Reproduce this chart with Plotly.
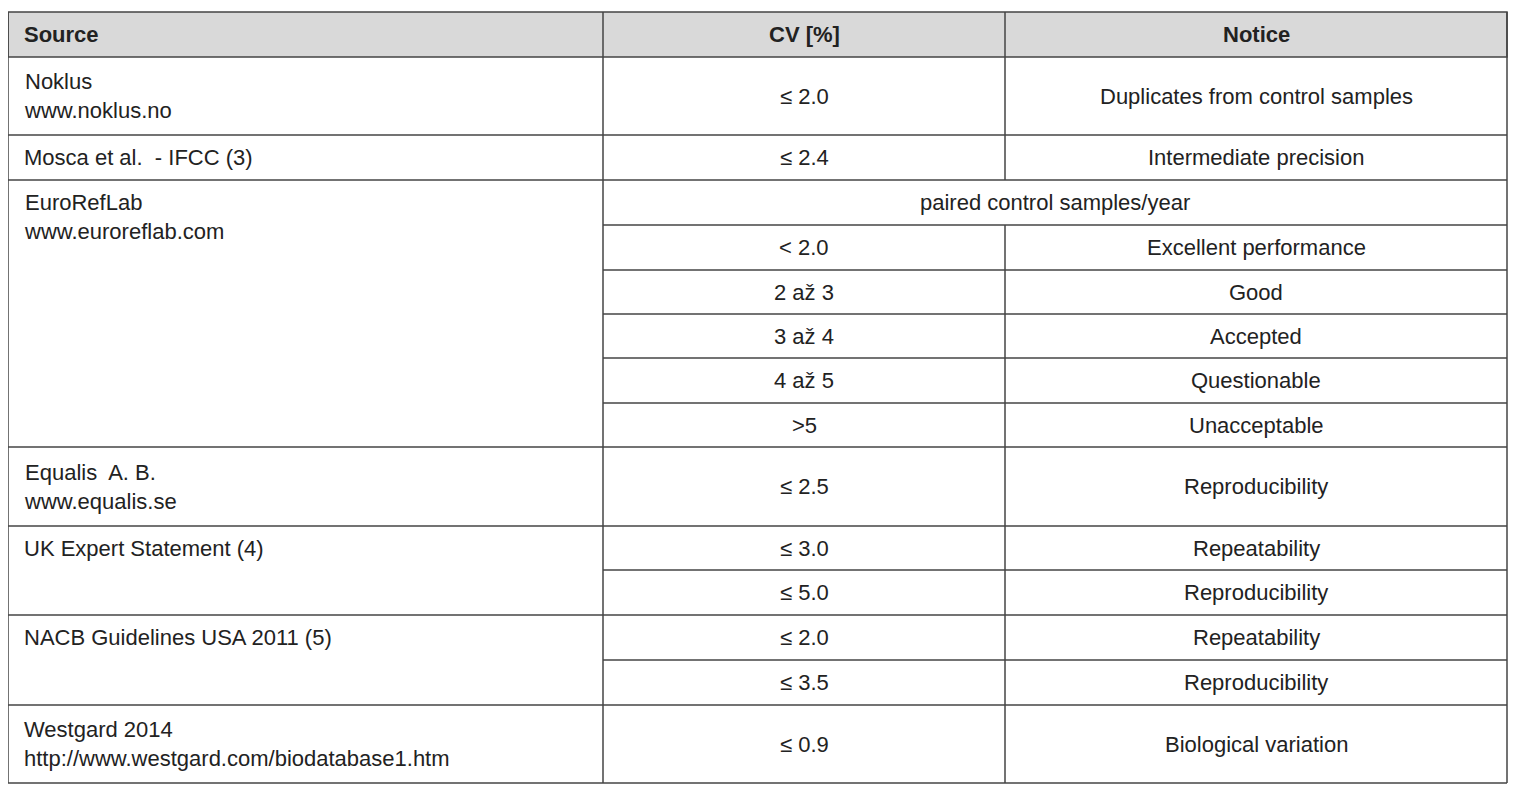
import plotly.graph_objects as go

# === data ===
headers = ["Source", "CV [%]", "Notice"]
sources = [
    "Noklus<br>www.noklus.no",
    "Mosca et al.  - IFCC (3)",
    "EuroRefLab<br>www.euroreflab.com",
    "Equalis  A. B.<br>www.equalis.se",
    "UK Expert Statement (4)",
    "NACB Guidelines USA 2011 (5)",
    "Westgard 2014<br>http://www.westgard.com/biodatabase1.htm",
]
source_spans = [1, 1, 6, 1, 2, 2, 1]  # sub-rows covered by each source
cv_values = ["≤ 2.0", "≤ 2.4", "", "< 2.0", "2 až 3", "3 až 4", "4 až 5", ">5",
             "≤ 2.5", "≤ 3.0", "≤ 5.0", "≤ 2.0", "≤ 3.5", "≤ 0.9"]
notices = ["Duplicates from control samples", "Intermediate precision",
           "paired control samples/year", "Excellent performance", "Good",
           "Accepted", "Questionable", "Unacceptable", "Reproducibility",
           "Repeatability", "Reproducibility", "Repeatability",
           "Reproducibility", "Biological variation"]
merged_rows = [2]  # CV + Notice merged

# === layout geometry (pixels) ===
col_x = [8, 603, 1005, 1507]
head_top, head_bot = 12, 57
row_y = [57, 135, 180, 225, 270, 314, 358, 403, 447, 526, 570, 615, 660, 705, 783]
FONT = "Liberation Sans, Arial, sans-serif"
TXT = "#222"
LINE = dict(color="#444", width=1.5)
OFF = 8  # page body margin

fig = go.Figure(go.Scatter(x=[0], y=[0], mode="markers", opacity=0, hoverinfo="skip"))
shapes, annos = [], []

# header
shapes.append(dict(type="rect", x0=col_x[0], x1=col_x[3], y0=head_top, y1=head_bot,
                   fillcolor="#d9d9d9", line=LINE, layer="below"))
hy = (head_top + head_bot) / 2
annos.append(dict(x=col_x[0] + 14, y=hy, text="<b>%s</b>" % headers[0], xanchor="left"))
annos.append(dict(x=(col_x[1] + col_x[2]) / 2, y=hy, text="<b>%s</b>" % headers[1]))
annos.append(dict(x=(col_x[2] + col_x[3]) / 2, y=hy, text="<b>%s</b>" % headers[2]))

# sources
group_starts = []
r = 0
for src, span in zip(sources, source_spans):
    top, bot = row_y[r], row_y[r + span]
    group_starts.append(r)
    if span == 1:
        annos.append(dict(x=col_x[0] + 14, y=(top + bot) / 2, text=src, xanchor="left", align="left"))
    else:
        annos.append(dict(x=col_x[0] + 14, y=top + 8, text=src, xanchor="left", yanchor="top", align="left"))
    r += span

# cv / notice cells
for i, (cv, note) in enumerate(zip(cv_values, notices)):
    cy = (row_y[i] + row_y[i + 1]) / 2
    if i in merged_rows:
        annos.append(dict(x=(col_x[1] + col_x[3]) / 2, y=cy, text=note))
    else:
        annos.append(dict(x=(col_x[1] + col_x[2]) / 2, y=cy, text=cv))
        annos.append(dict(x=(col_x[2] + col_x[3]) / 2, y=cy, text=note))

# horizontal lines
for i in range(1, len(row_y) - 1):
    x0 = col_x[0] if i in group_starts else col_x[1]
    shapes.append(dict(type="line", x0=x0, x1=col_x[3], y0=row_y[i], y1=row_y[i], line=LINE))

# vertical lines
for cx in (col_x[0], col_x[1], col_x[3]):
    shapes.append(dict(type="line", x0=cx, x1=cx, y0=head_top, y1=row_y[-1], line=LINE))
shapes.append(dict(type="line", x0=col_x[2], x1=col_x[2], y0=head_top, y1=head_bot, line=LINE))
for i in range(len(row_y) - 1):
    if i in merged_rows:
        continue
    shapes.append(dict(type="line", x0=col_x[2], x1=col_x[2], y0=row_y[i], y1=row_y[i + 1], line=LINE))
shapes.append(dict(type="line", x0=col_x[0], x1=col_x[3], y0=row_y[-1], y1=row_y[-1], line=LINE))

for a in annos:
    a.update(xref="x", yref="y", showarrow=False, font=dict(family=FONT, size=22, color=TXT))
    a.setdefault("xanchor", "center")
    a.setdefault("yanchor", "middle")

fig.update_layout(
    width=1529, height=800, margin=dict(l=0, r=0, t=0, b=0),
    paper_bgcolor="white", plot_bgcolor="white", showlegend=False,
    xaxis=dict(range=[OFF, 1529 + OFF], visible=False, fixedrange=True),
    yaxis=dict(range=[800 + OFF, OFF], visible=False, fixedrange=True),
    shapes=shapes, annotations=annos,
)

fig.write_html("out.html")
